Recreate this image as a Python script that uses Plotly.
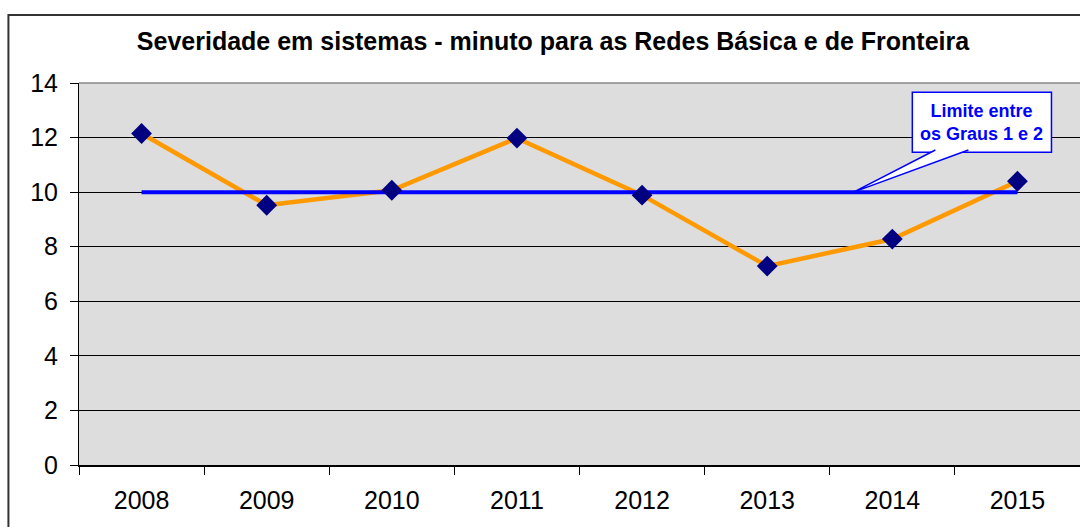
import plotly.graph_objects as go

years = ["2008", "2009", "2010", "2011", "2012", "2013", "2014", "2015"]
severity = [12.15, 9.52, 10.07, 11.98, 9.89, 7.29, 8.28, 10.40]
limit = [10, 10, 10, 10, 10, 10, 10, 10]

title = "Severidade em sistemas - minuto para as Redes Básica e de Fronteira"
callout_text = "Limite entre<br>os Graus 1 e 2"

FONT = "Liberation Sans, Arial, sans-serif"

fig = go.Figure()
fig.add_trace(go.Scatter(x=years, y=severity, mode="lines",
                         line=dict(color="#FF9900", width=4.5), hoverinfo="skip"))
fig.add_trace(go.Scatter(x=years, y=limit, mode="lines",
                         line=dict(color="#0000FF", width=4), hoverinfo="skip"))
fig.add_trace(go.Scatter(x=years, y=severity, mode="markers",
                         marker=dict(symbol="diamond", size=16, color="#000080",
                                     line=dict(width=0))))

# callout box (data coords: category index / value)
bx0, bx1, by0, by1 = 6.16, 7.272, 11.465, 13.66
tipx, tipy = 5.69, 10
b1, b2 = 6.344, 6.608

fig.add_shape(type="rect", x0=bx0, x1=bx1, y0=by0, y1=by1, xref="x", yref="y",
              line=dict(color="#0000FF", width=1.5), fillcolor="white", layer="above")
fig.add_shape(type="path", xref="x", yref="y",
              path=f"M {b1},{by0 + 0.08} L {tipx},{tipy} L {b2},{by0 + 0.08}",
              line=dict(color="#0000FF", width=1.5), fillcolor="white", layer="above")
fig.add_annotation(x=(bx0 + bx1) / 2, y=(by0 + by1) / 2, xref="x", yref="y",
                   text=callout_text, showarrow=False,
                   font=dict(family=FONT, size=18, color="#0000FF", weight="bold"))

# outer chart border
fig.add_shape(type="rect", xref="paper", yref="paper",
              x0=-0.0705, x1=1.2, y0=-0.5, y1=1.178,
              line=dict(color="#333333", width=2), fillcolor="rgba(0,0,0,0)", layer="above")
# top border of plot area
fig.add_shape(type="line", xref="paper", yref="paper", x0=0, x1=1, y0=1, y1=1,
              line=dict(color="#888888", width=1.5))

fig.update_layout(
    width=1080, height=527,
    margin=dict(l=79, r=0, t=83, b=62),
    paper_bgcolor="white", plot_bgcolor="#DDDDDD",
    showlegend=False,
    title=dict(text="<b>" + title + "</b>", x=553 / 1080, xref="container", xanchor="center",
               y=1 - 41.5 / 527, yref="container", yanchor="middle",
               font=dict(family=FONT, size=25, color="black")),
    font=dict(family=FONT, color="black"),
)
fig.update_xaxes(type="category", range=[-0.5, 7.5], tickson="boundaries",
                 ticks="outside", ticklen=8, tickcolor="black", tickwidth=1,
                 showline=True, linecolor="black", linewidth=1.5, showgrid=False,
                 tickfont=dict(size=25), ticklabelstandoff=12, zeroline=False)
fig.update_yaxes(range=[0, 14], dtick=2, ticks="outside", ticklen=8, tickcolor="black",
                 showline=True, linecolor="black", linewidth=1,
                 showgrid=True, gridcolor="black", gridwidth=1, zeroline=False,
                 tickfont=dict(size=25), ticklabelstandoff=7)

fig.write_html("out.html", config={"displayModeBar": False},
               post_script="document.body.style.margin='0';document.body.style.overflow='hidden';")
